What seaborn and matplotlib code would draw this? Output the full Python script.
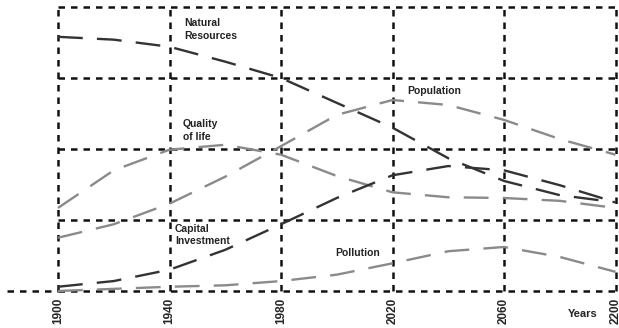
import numpy as np
import matplotlib
matplotlib.use("Agg")
import matplotlib.pyplot as plt
import pandas as pd
import seaborn as sns

# values, one point every half step (20 years)
step = [0, 0.5, 1, 1.5, 2, 2.5, 3, 3.5, 4, 4.5, 5]
tick_labels = ["1900", "1940", "1980", "2020", "2060", "2200"]

natural_resources = [3.58, 3.54, 3.44, 3.23, 3.00, 2.65, 2.30, 1.87, 1.55, 1.35, 1.25]
quality_of_life = [1.17, 1.70, 1.99, 2.06, 1.92, 1.62, 1.39, 1.32, 1.31, 1.27, 1.17]
population = [0.75, 0.94, 1.23, 1.61, 2.04, 2.48, 2.69, 2.62, 2.41, 2.14, 1.92]
capital_investment = [0.06, 0.14, 0.30, 0.58, 0.94, 1.31, 1.63, 1.76, 1.70, 1.49, 1.25]
pollution = [0.00, 0.03, 0.06, 0.08, 0.14, 0.23, 0.39, 0.56, 0.62, 0.48, 0.27]

dark = "#333333"
grey = "#8a8a8a"

sns.set_style("white")
plt.rcParams['font.family'] = ['Liberation Sans', 'DejaVu Sans']

fig = plt.figure(figsize=(6.19, 3.28), dpi=100)
ax = fig.add_axes([58 / 619, 1 - 291 / 328, 557.5 / 619, 284 / 328])

# dashed grid, edges included
grid_kw = dict(color="#111111", lw=1.8, linestyle=(0, (2.6, 2.4)), clip_on=False, zorder=1)
for yy in range(5):
    ax.axhline(yy, **grid_kw)
for xx in range(6):
    ax.axvline(xx, **grid_kw)
# bottom line runs on to the left
ax.plot([-0.457, 0], [0, 0], **grid_kw)

series = [
    (natural_resources, dark),
    (quality_of_life, grey),
    (population, grey),
    (capital_investment, dark),
    (pollution, grey),
]
for vals, col in series:
    df = pd.DataFrame({"x": step, "y": vals})
    sns.lineplot(data=df, x="x", y="y", color=col, lw=1.7,
                 linestyle=(0, (10.5, 6)), ax=ax, zorder=3, clip_on=False)

ax.set_xlim(0, 5)
ax.set_ylim(0, 4)
sns.despine(ax=ax, left=True, bottom=True)
ax.set_xlabel("")
ax.set_ylabel("")
ax.set_yticks([])
ax.set_xticks(range(6))
ax.set_xticklabels(tick_labels, rotation=90, fontsize=8.5, fontweight="bold", va="top")
ax.tick_params(axis="x", length=0, pad=5)

lab_kw = dict(fontsize=7.5, fontweight="bold", color="#222222", linespacing=1.35)
ax.text(1.13, 3.84, "Natural\nResources", va="top", ha="left", **lab_kw)
ax.text(1.12, 2.42, "Quality\nof life", va="top", ha="left", **lab_kw)
ax.text(3.13, 2.82, "Population", va="center", ha="left", **lab_kw)
ax.text(1.05, 0.95, "Capital\nInvestment", va="top", ha="left", **lab_kw)
ax.text(2.49, 0.535, "Pollution", va="center", ha="left", **lab_kw)
ax.text(4.57, -0.32, "Years", va="center", ha="left", fontsize=8, fontweight="bold",
        color="#222222", clip_on=False)

fig.savefig("out.png", dpi=100)
